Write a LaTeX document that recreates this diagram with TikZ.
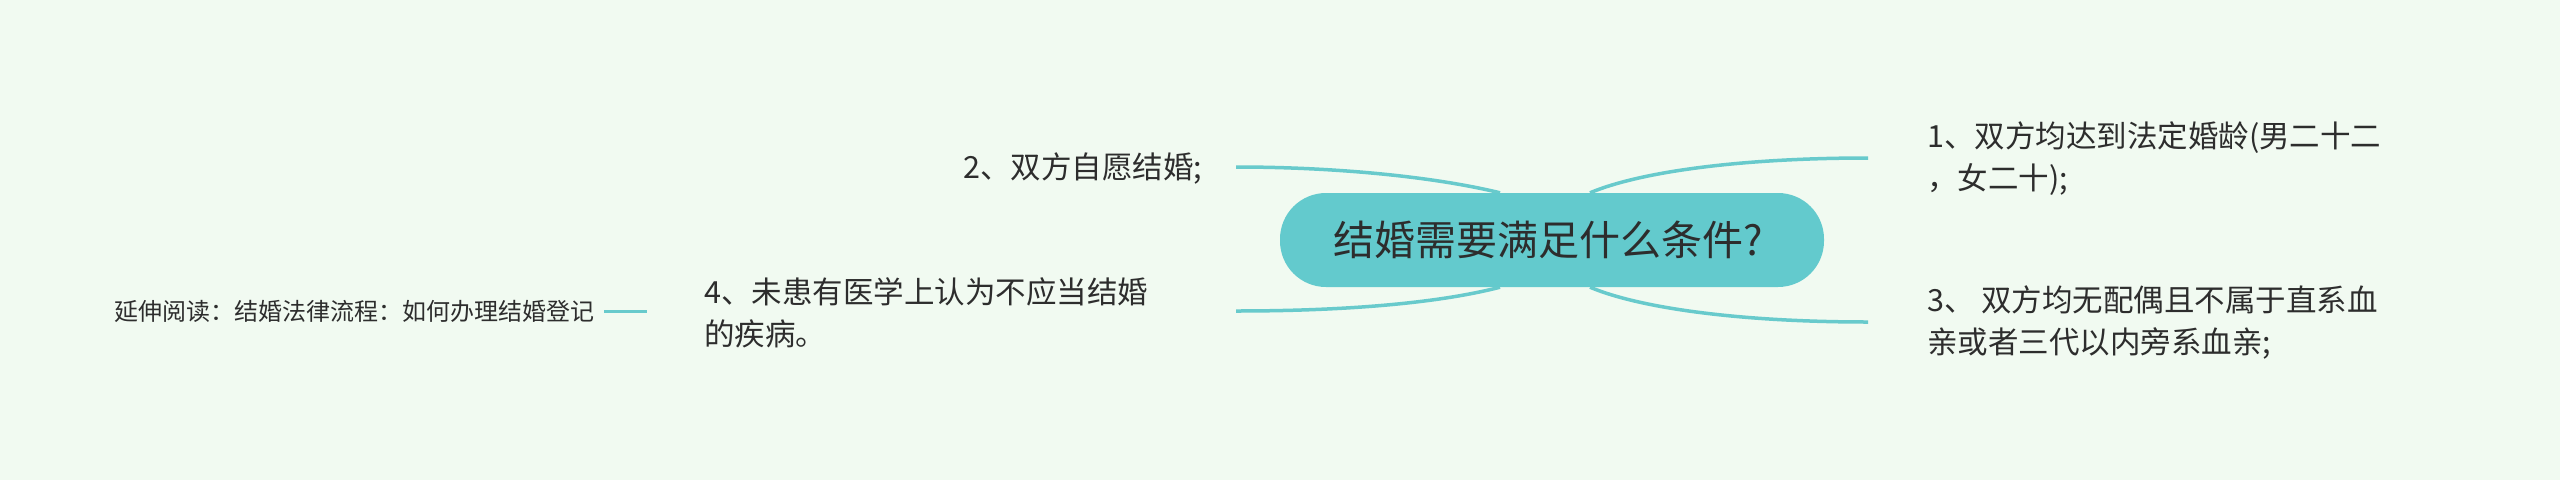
\documentclass[tikz,border=0pt]{standalone}
\usepackage{fontspec}
\setmainfont{Noto Sans CJK SC}
\usetikzlibrary{calc}
\definecolor{bgc}{RGB}{241,250,241}
\definecolor{rootfill}{RGB}{99,202,205}
\definecolor{linkc}{RGB}{104,202,204}
\definecolor{txt}{RGB}{45,45,45}
\begin{document}
\begin{tikzpicture}[x=1pt,y=-1pt,
  linkline/.style={draw=linkc, line width=3.5pt},
  leaf/.style={text=txt, font=\fontsize{30.5}{42}\selectfont, align=left, inner sep=0pt, anchor=west},
  rootbox/.style={fill=rootfill, draw=none, rounded corners=46pt, minimum width=544pt, minimum height=94pt, text=txt, font=\fontsize{41}{48}\selectfont, inner sep=0pt},
  extnode/.style={text=txt, font=\fontsize{24}{28}\selectfont, inner sep=0pt, anchor=west}]
\fill[bgc] (0,0) rectangle (2560,480);
\useasboundingbox (0,0) rectangle (2560,480);

% leaf texts
\node[leaf] (n1) at (1927,159) {1、双方均达到法定婚龄(男二十二\\，女二十);};
\node[leaf] (n2) at (963,168) {2、双方自愿结婚;};
\node[leaf] (n3) at (1927,322) {3、 双方均无配偶且不属于直系血\\亲或者三代以内旁系血亲;};
\node[leaf] (n4) at (704,313) {4、未患有医学上认为不应当结婚\\的疾病。};
\node[extnode] (ext) at (114,311) {延伸阅读：结婚法律流程：如何办理结婚登记};

% connector ends
\coordinate (e1) at (1868,158);
\coordinate (e2) at (1236,167);
\coordinate (e3) at (1868,322);
\coordinate (e4) at (1236,311);

% root placeholder for coordinates
\path (1552,240) node[rootbox, fill=none] (root) {\phantom{结婚需要满足什么条件?}};

\draw[linkline] ($(root.north)+(-52,0)$) .. controls ($(root.north)+(-122,-17)$) and (1330,167) .. (e2);
\draw[linkline] ($(root.south)+(-52,0)$) .. controls ($(root.south)+(-122,18)$) and (1330,311) .. (e4);
\draw[linkline] ($(root.north)+(38,0)$) .. controls ($(root.north)+(88,-21)$) and (1740,158) .. (e1);
\draw[linkline] ($(root.south)+(38,0)$) .. controls ($(root.south)+(88,21)$) and (1740,322) .. (e3);

\node[rootbox, text width=544pt, align=center] (rootv) at (root.center) {\hspace*{-8pt}结婚需要满足什么条件?};

% extension stub
\draw[linkline, line width=3pt] ($(ext.east)+(10,0)$) coordinate (s0) -- ++(43,0) coordinate (s1);
\end{tikzpicture}
\end{document}
